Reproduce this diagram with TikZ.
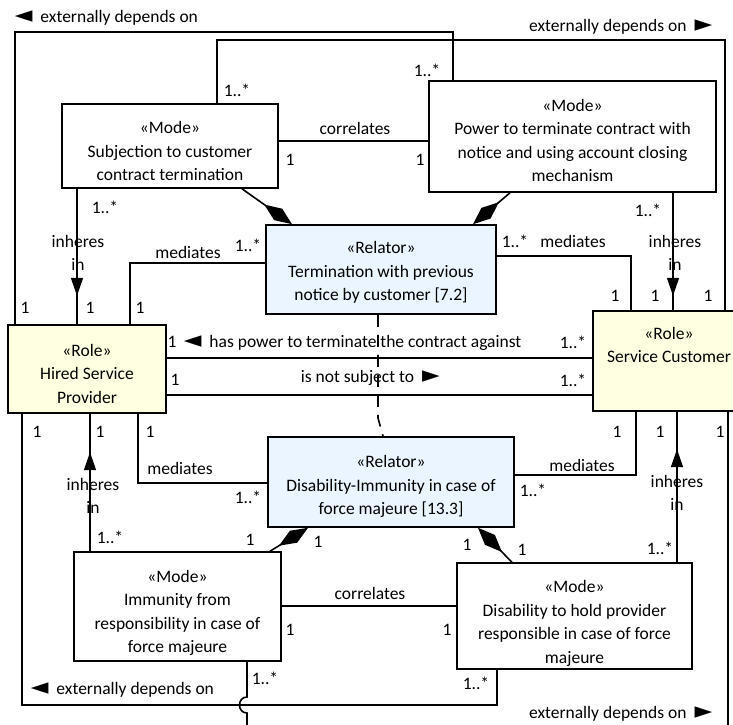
\documentclass[tikz,border=0pt]{standalone}
\usepackage{fontspec}
\setmainfont{Carlito}
\newfontfamily\trifont{DejaVu Sans}
\usetikzlibrary{arrows.meta}
\usetikzlibrary{decorations.markings}
\definecolor{rolefill}{RGB}{255,255,225}
\definecolor{relatorfill}{RGB}{235,245,255}
\newcommand{\tril}{{\trifont\fontsize{23}{23}\selectfont ◄}\hspace{8pt}}
\newcommand{\trir}{\hspace{8pt}{\trifont\fontsize{23}{23}\selectfont ►}}
\tikzset{
	umlbox/.style={draw, line width=1.6pt, align=center, inner sep=2pt},
	mode/.style={umlbox, fill=white},
	role/.style={umlbox, fill=rolefill},
	relator/.style={umlbox, fill=relatorfill},
	lbl/.style={inner sep=0pt, align=center},
	comp/.style={-{Diamond[length=34pt,width=14pt]}},
	inheres/.style={postaction={decorate}, decoration={markings, mark=at position #1 with {\arrow{Triangle[length=18pt,width=12pt]}}}},
}

\begin{document}
\begin{tikzpicture}[x=1pt, y=-1pt, line width=1.6pt, font=\fontsize{17.5}{23.5}\selectfont]
	\useasboundingbox (0,0) rectangle (733,724);
	\clip (0,0) rectangle (733,724);

	% modes..........................
	\node[mode, minimum width=216pt, minimum height=84pt, text height=70pt] (subj) at (170,146) {«Mode»\\Subjection to customer\\contract termination};
	\node[mode, minimum width=287pt, minimum height=111pt, text height=91pt] (power) at (572.5,136.5) {«Mode»\\Power to terminate contract with\\notice and using account closing\\mechanism};
	\node[mode, minimum width=207pt, minimum height=109pt, text height=95pt] (immunity) at (177.5,606.5) {«Mode»\\Immunity from\\responsibility in case of\\force majeure};
	\node[mode, minimum width=235pt, minimum height=106pt, text height=97pt] (disability) at (574.5,616) {«Mode»\\Disability to hold provider\\responsible in case of force\\majeure};

	% relators.......................
	\node[relator, minimum width=230pt, minimum height=89pt, text height=65pt] (term) at (381,269.5) {«Relator»\\Termination with previous\\notice by customer [7.2]};
	\node[relator, minimum width=246pt, minimum height=90pt, text height=68pt] (force) at (391,482) {«Relator»\\Disability-Immunity in case of\\force majeure [13.3]};

	% roles..........................
	\node[role, minimum width=158pt, minimum height=88pt, text height=69pt] (provider) at (87,369) {«Role»\\Hired Service\\Provider};
	\node[role, minimum width=152pt, minimum height=100pt, text depth=32pt] (customer) at (669,361) {«Role»\\Service Customer};

	% externally depends on (top)...........
	\draw (provider.north -| 15,0) |- (453,32) -- (power.north -| 453,0);
	\node[lbl, anchor=west] (extTL) at (14,18) {\tril externally depends on};
	\draw (subj.north -| 217,0) |- (725,40) -- (customer.north -| 725,0);
	\node[lbl, anchor=east] (extTR) at (713,27) {externally depends on\trir};

	% externally depends on (bottom)........
	\draw (provider.south -| 22,0) |- (497,705) -- (disability.south -| 497,0);
	\draw (immunity.south -| 247,0) -- (247,697) .. controls (237,697) and (237,713) .. (247,713) -- (247,730) -| (customer.south -| 728,0);
	\node[lbl, anchor=west] (extBL) at (30,690) {\tril externally depends on};
	\node[lbl, anchor=east] (extBR) at (713,714) {externally depends on\trir};

	% inheres in.....................
	\draw[inheres=107pt] (subj.south -| 77,0) -- (provider.north -| 77,0);
	\draw[inheres=103pt] (power.south -| 673,0) -- (customer.north -| 673,0);
	\draw[inheres=99pt] (immunity.north -| 90,0) -- (provider.south -| 90,0);
	\draw[inheres=113pt] (disability.north -| 677,0) -- (customer.south -| 677,0);
	\node[lbl] (inhA) at (78,253) {inheres\\in};
	\node[lbl] (inhB) at (675,253) {inheres\\in};
	\node[lbl] (inhC) at (93,496) {inheres\\in};
	\node[lbl] (inhD) at (677,493) {inheres\\in};

	% compositions...................
	\draw[comp] (subj.south -| 242,0) -- (term.north -| 292,0);
	\draw[comp] (power.south -| 510,0) -- (term.north -| 473,0);
	\draw[comp] (immunity.north -| 270,0) -- (force.south -| 308,0);
	\draw[comp] (disability.north -| 512,0) -- (force.south -| 478,0);

	% correlates.....................
	\draw (subj.east |- 0,141) -- (power.west |- 0,141);
	\node[lbl] (corTop) at (355,128) {correlates};
	\draw (immunity.east |- 0,606) -- (disability.west |- 0,606);
	\node[lbl] (corBot) at (370,593) {correlates};

	% mediates.......................
	\draw (term.west |- 0,263) -| (provider.north -| 130,0);
	\node[lbl] (medA) at (188,252) {mediates};
	\draw (term.east |- 0,256) -| (customer.north -| 631,0);
	\node[lbl] (medB) at (573,241) {mediates};
	\draw (force.west |- 0,483) -| (provider.south -| 138,0);
	\node[lbl] (medC) at (180,468) {mediates};
	\draw (force.east |- 0,475) -| (customer.south -| 636,0);
	\node[lbl] (medD) at (582,465) {mediates};

	% provider -- customer...........
	\draw (provider.east |- 0,358) -- (customer.west |- 0,358);
	\node[lbl, anchor=west] (power2) at (183,343) {\tril has power to terminate the contract against};
	\draw (provider.east |- 0,395) -- (customer.west |- 0,395);
	\node[lbl, anchor=west] (notsub) at (300,378) {is not subject to\trir};

	% relator dependency.............
	\draw[dash pattern=on 12pt off 8pt] (term.south -| 378,0) -- (378,418) -- (force.north -| 383,0);

	% multiplicities.................
	\node[lbl] (mA1) at (25,308) {1};
	\node[lbl] (mA2) at (427,70) {1..*};
	\node[lbl] (mB1) at (237,90) {1..*};
	\node[lbl] (mB2) at (708,296) {1};
	\node[lbl] (mC1) at (37,432) {1};
	\node[lbl] (mC2) at (476,683) {1..*};
	\node[lbl] (mD1) at (265,678) {1..*};
	\node[lbl] (mD2) at (720,432) {1};
	\node[lbl] (mE1) at (105,207) {1..*};
	\node[lbl] (mE2) at (90,308) {1};
	\node[lbl] (mF1) at (648,210) {1..*};
	\node[lbl] (mF2) at (655,296) {1};
	\node[lbl] (mG1) at (110,537) {1..*};
	\node[lbl] (mG2) at (100,432) {1};
	\node[lbl] (mH1) at (660,548) {1..*};
	\node[lbl] (mH2) at (660,432) {1};
	\node[lbl] (mI1) at (290,160) {1};
	\node[lbl] (mI2) at (420,160) {1};
	\node[lbl] (mJ1) at (290,630) {1};
	\node[lbl] (mJ2) at (447,630) {1};
	\node[lbl] (mK1) at (248,245) {1..*};
	\node[lbl] (mK2) at (140,308) {1};
	\node[lbl] (mL1) at (515,241) {1..*};
	\node[lbl] (mL2) at (615,296) {1};
	\node[lbl] (mM1) at (248,497) {1..*};
	\node[lbl] (mM2) at (150,432) {1};
	\node[lbl] (mN1) at (533,490) {1..*};
	\node[lbl] (mN2) at (617,432) {1};
	\node[lbl] (mO1) at (172,342) {1};
	\node[lbl] (mO2) at (573,342) {1..*};
	\node[lbl] (mP1) at (175,380) {1};
	\node[lbl] (mP2) at (573,380) {1..*};
	\node[lbl] (mQ1) at (250,540) {1};
	\node[lbl] (mQ2) at (318,542) {1};
	\node[lbl] (mR1) at (467,545) {1};
	\node[lbl] (mR2) at (522,550) {1};
\end{tikzpicture}
\end{document}
